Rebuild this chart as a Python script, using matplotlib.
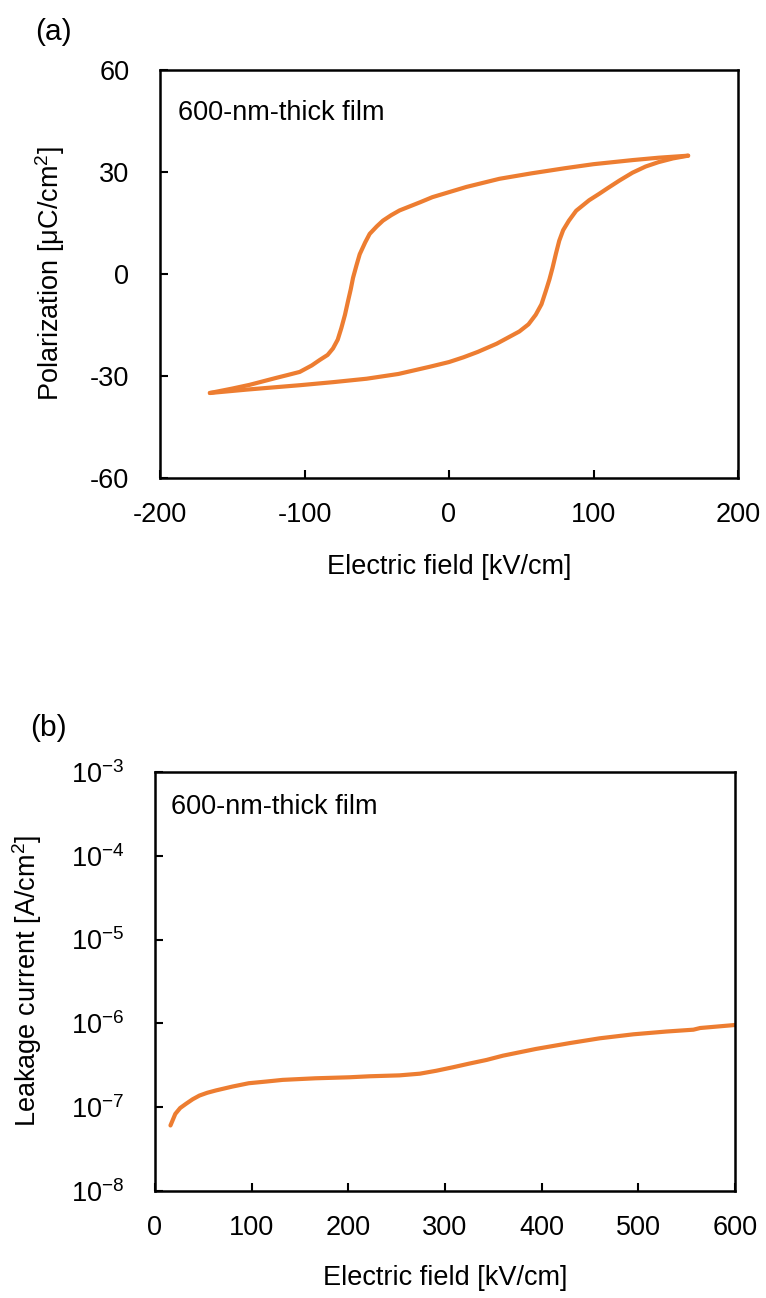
import numpy as np
import matplotlib
matplotlib.use("Agg")
import matplotlib.pyplot as plt
from matplotlib.ticker import FixedLocator, FuncFormatter

plt.rcParams['font.family'] = ['Liberation Sans', 'DejaVu Sans']
plt.rcParams['mathtext.fontset'] = 'custom'
plt.rcParams['mathtext.rm'] = 'Liberation Sans'
plt.rcParams['mathtext.it'] = 'Liberation Sans'

ORANGE = '#ED7D31'

# (a) P-E hysteresis loop
# upper branch: from +Emax down to -Emax
e_up = [165.5, 145, 127, 100, 80, 57, 34.9, 12, -11.5, -20, -34.2, -40,
        -45.7, -50, -54.9, -58, -61.8, -64, -66.4, -68, -69.9, -72, -74.5,
        -77, -80.3, -84, -89.5, -95, -103.3, -112.5, -120, -138, -150, -165.5]
p_up = [34.8, 34.2, 33.5, 32.3, 31.1, 29.6, 28.0, 25.6, 22.6, 21.1, 18.7, 17.3,
        15.7, 14.0, 11.8, 9.3, 5.8, 2.6, -1.1, -4.5, -8.0, -12.0, -15.9,
        -19.3, -21.9, -23.8, -25.3, -26.9, -28.8, -29.8, -30.6, -32.6, -33.7,
        -35.0]
# lower branch: from -Emax up to +Emax
e_low = [-165.5, -140, -103, -80, -57, -35, -13.5, 0, 10, 20, 33, 40, 48.7,
         55, 60, 64, 67, 69.5, 71.7, 74, 76.3, 79, 83, 88, 97, 104, 110, 118,
         127, 136, 145, 155, 165.5]
p_low = [-35.0, -34.0, -32.7, -31.8, -30.8, -29.4, -27.3, -25.9, -24.5, -22.9,
         -20.5, -18.9, -16.9, -14.8, -12.0, -8.9, -5.0, -1.6, 1.9, 6.0, 9.8,
         12.9, 15.7, 18.6, 21.7, 23.6, 25.3, 27.5, 29.8, 31.6, 32.9, 34.0, 34.8]

# (b) leakage current (log10 of A/cm2) vs field
e_leak = [16, 21, 26, 32, 39, 46, 54, 63, 80, 97, 115, 132, 166, 201, 222, 253,
          274, 291, 308, 325, 343, 360, 394, 429, 460, 495, 529, 557, 564, 600]
logj_leak = [-7.218, -7.08, -7.01, -6.96, -6.905, -6.861, -6.828, -6.80,
             -6.754, -6.714, -6.694, -6.674, -6.655, -6.643, -6.631, -6.62,
             -6.60, -6.565, -6.524, -6.48, -6.436, -6.385, -6.305, -6.235,
             -6.178, -6.13, -6.097, -6.075, -6.055, -6.019]

a_xticks = [-200, -100, 0, 100, 200]
a_yticks = [-60, -30, 0, 30, 60]
b_xticks = [0, 100, 200, 300, 400, 500, 600]
b_yticks = [1e-8, 1e-7, 1e-6, 1e-5, 1e-4, 1e-3]

W, H = 766, 1298
fig = plt.figure(figsize=(W / 100, H / 100), dpi=100)

FS = 19.5
LW = 3.0


def style_axes(ax):
    for s in ax.spines.values():
        s.set_linewidth(1.8)
    ax.tick_params(direction='in', length=6, width=1.5, labelsize=FS,
                   top=False, right=False)
    ax.tick_params(axis='x', pad=17)
    ax.tick_params(axis='y', pad=22)


# ---- panel (a)
ax1 = fig.add_axes([160 / W, 1 - 478 / H, 578 / W, 408 / H])
ax1.plot(e_up, p_up, color=ORANGE, lw=LW, solid_capstyle='round',
         solid_joinstyle='round')
ax1.plot(e_low, p_low, color=ORANGE, lw=LW, solid_capstyle='round',
         solid_joinstyle='round')
ax1.set_xlim(-200, 200)
ax1.set_ylim(-60, 60)
ax1.set_xticks(a_xticks)
ax1.set_yticks(a_yticks)
ax1.xaxis.set_major_formatter(FuncFormatter(lambda v, p: f"{v:.0f}"))
ax1.yaxis.set_major_formatter(FuncFormatter(lambda v, p: f"{v:.0f}"))
style_axes(ax1)
ax1.set_xlabel("Electric field [kV/cm]", fontsize=FS)
ax1.set_ylabel("Polarization [μC/cm$^2$]", fontsize=FS)
ax1.xaxis.set_label_coords(0.5, (478 - 567) / 408)
ax1.xaxis.label.set_va('center')
ax1.yaxis.set_label_coords((50 - 160) / 578, 0.5)
ax1.yaxis.label.set_va('center')
ax1.text(0.031, 0.895, "600-nm-thick film", transform=ax1.transAxes,
         fontsize=FS, va='center', ha='left')
fig.text(35 / W, 1 - 32 / H, "(a)", fontsize=FS + 2, va='center', ha='left')

# ---- panel (b)
ax2 = fig.add_axes([155 / W, 1 - 1191 / H, 580 / W, 419 / H])
ax2.plot(e_leak, 10 ** np.array(logj_leak), color=ORANGE, lw=LW,
         solid_capstyle='round', solid_joinstyle='round')
ax2.set_yscale('log')
ax2.set_xlim(0, 600)
ax2.set_ylim(1e-8, 1e-3)
ax2.set_xticks(b_xticks)
ax2.yaxis.set_major_locator(FixedLocator(b_yticks))
ax2.yaxis.set_minor_locator(FixedLocator([]))
ax2.yaxis.set_major_formatter(
    FuncFormatter(lambda v, p: "10$^{%d}$" % round(np.log10(v))))
ax2.xaxis.set_major_formatter(FuncFormatter(lambda v, p: f"{v:.0f}"))
style_axes(ax2)
ax2.set_xlabel("Electric field [kV/cm]", fontsize=FS)
ax2.set_ylabel("Leakage current [A/cm$^2$]", fontsize=FS)
ax2.xaxis.set_label_coords(0.5, (1191 - 1278) / 419)
ax2.xaxis.label.set_va('center')
ax2.yaxis.set_label_coords((27 - 155) / 580, 0.5)
ax2.yaxis.label.set_va('center')
ax2.text(0.0276, 0.916, "600-nm-thick film", transform=ax2.transAxes,
         fontsize=FS, va='center', ha='left')
fig.text(30 / W, 1 - 728 / H, "(b)", fontsize=FS + 2, va='center', ha='left')

fig.savefig("out.png", dpi=100)
